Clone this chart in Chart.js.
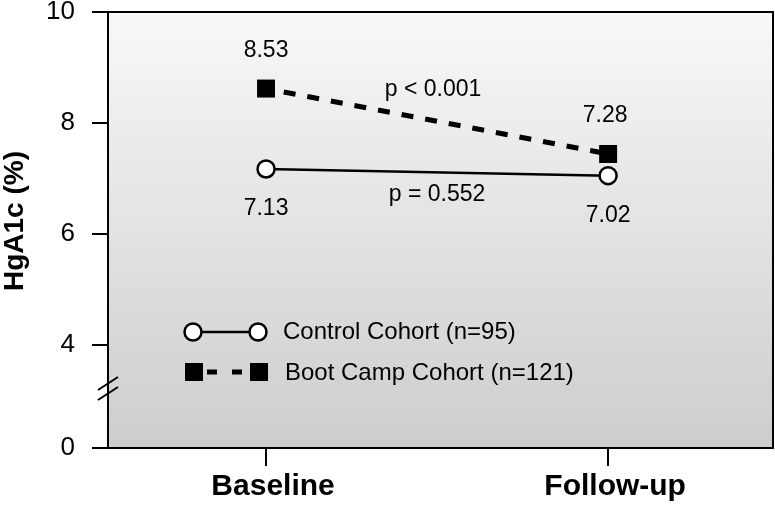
<!DOCTYPE html>
<html>
<head>
<meta charset="utf-8">
<title>HgA1c</title>
<script src="https://cdn.jsdelivr.net/npm/chart.js@4.4.1/dist/chart.umd.min.js"></script>
<style>
  html, body { margin: 0; padding: 0; background: #fff; }
  #wrap { width: 775px; height: 509px; }
</style>
</head>
<body>
<div id="wrap"><canvas id="hga1c" width="775" height="509"></canvas></div>
<script>
// time points
var timePoints = ['Baseline', 'Follow-up'];

// HgA1c (%) as plotted in the figure
var controlValues = [7.17, 7.05];
var bootCampValues = [8.62, 7.44];

// numbers printed next to the points
var controlLabels = ['7.13', '7.02'];
var bootCampLabels = ['8.53', '7.28'];

// p values
var controlP = 'p = 0.552';
var bootCampP = 'p < 0.001';

// legend names
var seriesNames = ['Control Cohort (n=95)', 'Boot Camp Cohort (n=121)'];

// y ticks (axis is broken below 4, bottom shown as 0)
var yTickValues = [4, 6, 8, 10];
var yBottomLabel = '0';

var FONT = '"Liberation Sans", Arial, Helvetica, sans-serif';
var Y_BOTTOM = 2.14; // where the broken axis ends

var decor = {
    id: 'decor',
    beforeDraw: function(chart){
        var a = chart.chartArea, ctx = chart.ctx;
        var g = ctx.createLinearGradient(0, a.top, 0, a.bottom);
        g.addColorStop(0, '#f8f8f8');
        g.addColorStop(1, '#cdcdcd');
        ctx.save();
        ctx.fillStyle = g;
        ctx.fillRect(a.left, a.top, a.right - a.left, a.bottom - a.top);
        ctx.restore();
    },
    afterDraw: function(chart){
        var a = chart.chartArea, ctx = chart.ctx;
        var xs = chart.scales.x, ys = chart.scales.y;
        ctx.save();
        ctx.strokeStyle = '#000';
        ctx.fillStyle = '#000';

        // top + right frame
        ctx.lineWidth = 2;
        ctx.beginPath();
        ctx.moveTo(a.left, a.top);
        ctx.lineTo(a.right, a.top);
        ctx.lineTo(a.right, a.bottom);
        ctx.stroke();

        // axis break
        var by = a.bottom - 55;
        ctx.beginPath();
        ctx.moveTo(a.left - 10, by - 3); ctx.lineTo(a.left + 10, by - 16);
        ctx.moveTo(a.left - 10, by + 7); ctx.lineTo(a.left + 10, by - 6);
        ctx.stroke();

        // y title
        ctx.save();
        ctx.translate(15, 221);
        ctx.rotate(-Math.PI / 2);
        ctx.font = 'bold 28px ' + FONT;
        ctx.textAlign = 'center';
        ctx.textBaseline = 'middle';
        ctx.fillText('HgA1c (%)', 0, 0);
        ctx.restore();

        // value labels + p values
        ctx.font = '23px ' + FONT;
        ctx.textAlign = 'center';
        ctx.textBaseline = 'middle';
        for (var i = 0; i < timePoints.length; i++) {
            var px = xs.getPixelForValue(i);
            ctx.fillText(bootCampLabels[i], px - 3 * i, ys.getPixelForValue(bootCampValues[i]) - 38);
            ctx.fillText(controlLabels[i], px, ys.getPixelForValue(controlValues[i]) + 40);
        }
        var mx = (xs.getPixelForValue(0) + xs.getPixelForValue(1)) / 2;
        var bMid = (ys.getPixelForValue(bootCampValues[0]) + ys.getPixelForValue(bootCampValues[1])) / 2;
        var cMid = (ys.getPixelForValue(controlValues[0]) + ys.getPixelForValue(controlValues[1])) / 2;
        ctx.fillText(bootCampP, mx - 4, bMid - 32);
        ctx.fillText(controlP, mx, cMid + 22);

        // legend
        var lx1 = a.left + 85, lx2 = a.left + 150, r1 = 332, r2 = 372;
        ctx.lineWidth = 2.5;
        ctx.beginPath(); ctx.moveTo(lx1, r1); ctx.lineTo(lx2, r1); ctx.stroke();
        [lx1, lx2].forEach(function(cx){
            ctx.beginPath();
            ctx.arc(cx, r1, 8.5, 0, Math.PI * 2);
            ctx.fillStyle = '#fff'; ctx.fill();
            ctx.stroke();
        });
        ctx.fillStyle = '#000';
        [lx1 + 1, lx2 + 1].forEach(function(cx){
            ctx.fillRect(cx - 9, r2 - 9, 18, 18);
        });
        ctx.lineWidth = 5;
        ctx.setLineDash([10, 15]);
        ctx.beginPath(); ctx.moveTo(lx1 + 14, r2); ctx.lineTo(lx2 - 16, r2); ctx.stroke();
        ctx.setLineDash([]);

        ctx.font = '24px ' + FONT;
        ctx.textAlign = 'left';
        ctx.fillText(seriesNames[0], 283, r1);
        ctx.fillText(seriesNames[1], 285, r2 + 1);
        ctx.restore();
    }
};

new Chart(document.getElementById('hga1c'), {
    type: 'line',
    data: {
        datasets: [{
            label: seriesNames[1],
            data: bootCampValues.map(function(v, i){ return {x: i, y: v}; }),
            borderColor: '#000',
            borderWidth: 5,
            borderDash: [12, 12],
            borderDashOffset: 6,
            pointStyle: 'rect',
            pointRadius: 12.7,
            pointBackgroundColor: '#000',
            pointBorderWidth: 0,
            tension: 0
        }, {
            label: seriesNames[0],
            data: controlValues.map(function(v, i){ return {x: i, y: v}; }),
            borderColor: '#000',
            borderWidth: 2.5,
            pointStyle: 'circle',
            pointRadius: 8.5,
            pointBackgroundColor: '#fff',
            pointBorderColor: '#000',
            pointBorderWidth: 2.5,
            tension: 0
        }]
    },
    options: {
        responsive: false,
        devicePixelRatio: 1,
        animation: false,
        layout: { autoPadding: false, padding: { top: 12, right: 2, left: 0, bottom: 0 } },
        plugins: { legend: { display: false }, tooltip: { enabled: false } },
        scales: {
            x: {
                type: 'linear',
                min: -0.462,
                max: 1.482,
                afterBuildTicks: function(s){
                    s.ticks = timePoints.map(function(t, i){ return {value: i}; });
                },
                afterFit: function(s){ s.height = 61; s.paddingLeft = 0; s.paddingRight = 0; },
                ticks: {
                    callback: function(v){ return timePoints[v]; },
                    font: { family: FONT, size: 30, weight: 'bold' },
                    color: '#000',
                    padding: 3,
                    labelOffset: 7,
                    maxRotation: 0,
                    autoSkip: false
                },
                grid: { drawOnChartArea: false, drawTicks: true, tickLength: 18, color: '#000', lineWidth: 2 },
                border: { display: true, color: '#000', width: 2 }
            },
            y: {
                min: Y_BOTTOM,
                max: 10,
                afterBuildTicks: function(s){
                    s.ticks = [{value: Y_BOTTOM}].concat(yTickValues.map(function(v){ return {value: v}; }));
                },
                afterFit: function(s){ s.width = 108; s.paddingTop = 0; s.paddingBottom = 0; },
                ticks: {
                    callback: function(v){ return v < yTickValues[0] ? yBottomLabel : v; },
                    font: { family: FONT, size: 26 },
                    color: '#000',
                    padding: 17
                },
                grid: { drawOnChartArea: false, drawTicks: true, tickLength: 16, color: '#000', lineWidth: 2 },
                border: { display: true, color: '#000', width: 2 }
            }
        }
    },
    plugins: [decor]
});
</script>
</body>
</html>
